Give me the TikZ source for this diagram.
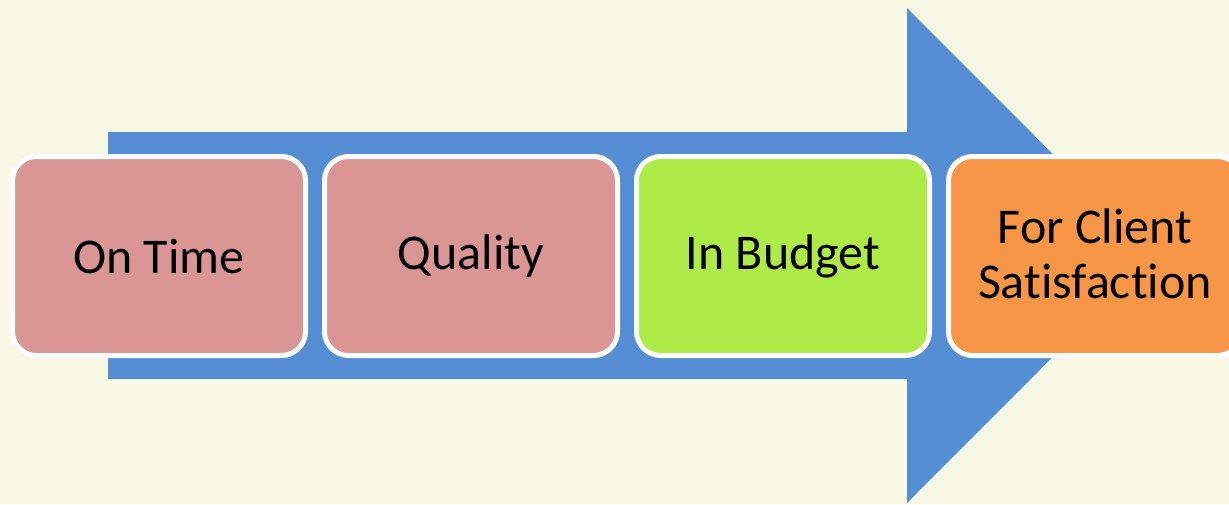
\documentclass[tikz,border=0pt]{standalone}
\usepackage{fontspec}
\setmainfont[Ligatures=NoCommon]{Carlito}
\definecolor{bgcream}{HTML}{F7F9E5}
\definecolor{arrowblue}{HTML}{558ED5}
\definecolor{boxpink}{HTML}{D99694}
\definecolor{boxgreen}{HTML}{AEEA48}
\definecolor{boxorange}{HTML}{F79646}
\tikzset{
  stagebox/.style={draw=white, line width=5pt, rounded corners=24pt,
    minimum width=293pt, minimum height=199pt, inner sep=0pt,
    align=center, font=\fontsize{50}{55}\selectfont, text=black}
}
\begin{document}
\begin{tikzpicture}[x=1pt,y=-1pt]
\useasboundingbox (0,0) rectangle (1229,504);
\clip (0,0) rectangle (1229,504);
\fill[bgcream] (0,0) rectangle (1229,504);
\fill[arrowblue] (108,132) -- (907,132) -- (907,8) -- (1154,255.5) -- (907,503) -- (907,379) -- (108,379) -- cycle;
\node[stagebox, fill=boxpink] (ontime) at (159,256) {On Time};
\node[stagebox, fill=boxpink] (quality) at (471,256) {Quality};
\node[stagebox, fill=boxgreen] (budget) at (783,256) {In Budget};
\node[stagebox, fill=boxorange] (client) at (1095,256) {For Client\\Satisfaction\rule{0pt}{0pt}\vspace*{4pt}};
\end{tikzpicture}
\end{document}
